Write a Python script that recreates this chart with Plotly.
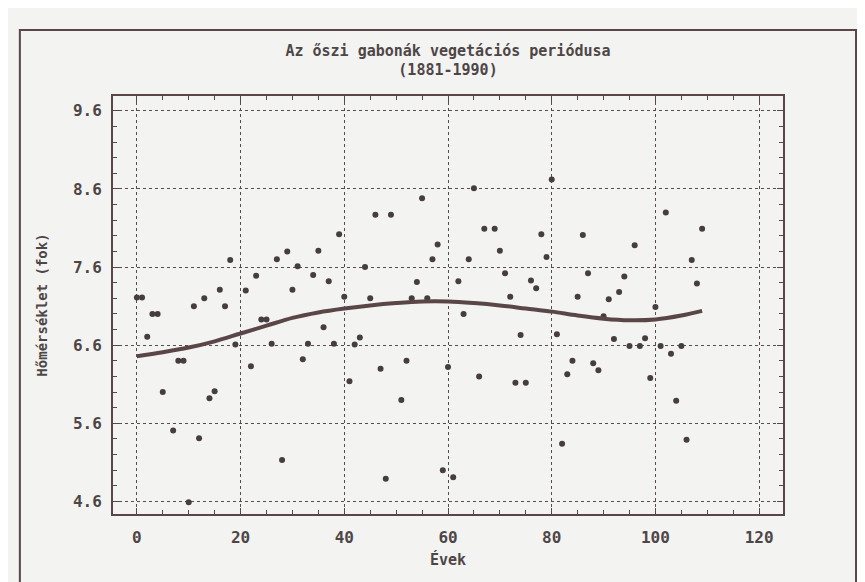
import plotly.graph_objects as go

# Years since 1881 and the seasonal mean temperature (°C)
YEARS = [0, 1, 2, 3, 4, 5, 7, 8, 9, 10,
         11, 12, 13, 14, 15, 16, 17, 18, 19, 21,
         22, 23, 24, 25, 26, 27, 28, 29, 30, 31,
         32, 33, 34, 35, 36, 37, 38, 39, 40, 41,
         42, 43, 44, 45, 46, 47, 48, 49, 51, 52,
         53, 54, 55, 56, 57, 58, 59, 60, 61, 62,
         63, 64, 65, 66, 67, 69, 70, 71, 72, 73,
         74, 75, 76, 77, 78, 79, 80, 81, 82, 83,
         84, 85, 86, 87, 88, 89, 90, 91, 92, 93,
         94, 95, 96, 97, 98, 99, 100, 101, 102, 103,
         104, 105, 106, 107, 108, 109]
TEMPS = [7.21, 7.21, 6.71, 7.00, 7.00, 6.00, 5.51, 6.40, 6.40, 4.59,
         7.10, 5.41, 7.20, 5.92, 6.01, 7.31, 7.10, 7.69, 6.61, 7.30,
         6.33, 7.49, 6.93, 6.93, 6.62, 7.70, 5.13, 7.80, 7.31, 7.61,
         6.42, 6.62, 7.50, 7.81, 6.83, 7.42, 6.62, 8.02, 7.22, 6.14,
         6.61, 6.70, 7.60, 7.20, 8.27, 6.30, 4.89, 8.27, 5.90, 6.40,
         7.20, 7.41, 8.48, 7.20, 7.70, 7.89, 5.00, 6.32, 4.91, 7.42,
         7.00, 7.70, 8.61, 6.20, 8.09, 8.09, 7.81, 7.52, 7.22, 6.12,
         6.73, 6.12, 7.43, 7.33, 8.02, 7.73, 8.72, 6.74, 5.34, 6.23,
         6.40, 7.22, 8.01, 7.52, 6.37, 6.28, 6.97, 7.19, 6.68, 7.28,
         7.48, 6.59, 7.88, 6.59, 6.69, 6.18, 7.09, 6.59, 8.30, 6.49,
         5.89, 6.59, 5.39, 7.69, 7.39, 8.09]

# Smoothed trend curve, read every 5 years
TREND_X = [0, 5, 10, 15, 20, 25, 30, 35, 40, 45, 50, 55,
           60, 65, 70, 75, 80, 85, 90, 95, 100, 105, 109]
TREND_Y = [6.46, 6.51, 6.57, 6.65, 6.75, 6.85, 6.95, 7.02, 7.07, 7.11, 7.14, 7.16,
           7.16, 7.14, 7.11, 7.07, 7.03, 6.98, 6.94, 6.92, 6.93, 6.98, 7.04]

X_TICKS = [0, 20, 40, 60, 80, 100, 120]
Y_TICKS = [4.6, 5.6, 6.6, 7.6, 8.6, 9.6]

INK = "#5a4646"
TEXT = "#4e4646"
BG = "#f3f3f1"
FONT = "DejaVu Sans Mono"

fig = go.Figure()

fig.add_trace(go.Scatter(
    x=YEARS, y=TEMPS,
    mode="markers",
    marker=dict(color="#463e3e", size=6, symbol="circle"),
    showlegend=False,
))

fig.add_trace(go.Scatter(
    x=TREND_X, y=TREND_Y,
    mode="lines",
    line=dict(color=INK, width=4, shape="spline"),
    showlegend=False,
))

axis_common = dict(
    automargin=False,
    showline=True, linecolor=INK, linewidth=2, mirror="ticks",
    ticks="inside", ticklen=6, tickcolor=INK, tickwidth=1,
    showgrid=True, gridcolor="#564c4c", griddash="dot", gridwidth=1,
    zeroline=False,
    tickfont=dict(family=FONT, size=16, color=TEXT, weight="bold"),
)

fig.update_xaxes(
    range=[-4.6, 124.6],
    tickvals=X_TICKS,
    minor=dict(ticks="inside", dtick=5, tick0=0, ticklen=4, tickcolor=INK, showgrid=False),
    ticklabelstandoff=8,
    title=dict(text="Évek", font=dict(family=FONT, size=15, color=TEXT, weight="bold"),
               standoff=8),
    **axis_common,
)
fig.update_yaxes(
    range=[4.44, 9.79],
    tickvals=Y_TICKS,
    tickformat=".1f",
    minor=dict(ticks="inside", dtick=0.2, tick0=4.6, ticklen=4, tickcolor=INK, showgrid=False),
    ticklabelstandoff=6,
    title=dict(text="Hőmérséklet (fok)", font=dict(family=FONT, size=14, color=TEXT, weight="bold"),
               standoff=22),
    **axis_common,
)

# outer frame of the printed figure
fig.add_shape(type="rect", xref="paper", yref="paper",
              x0=-0.139, x1=1.109, y0=-0.170, y1=1.158,
              line=dict(color=INK, width=2), layer="below")

fig.update_layout(
    width=865, height=582,
    margin=dict(l=105, r=90, t=88, b=76),
    paper_bgcolor=BG, plot_bgcolor=BG,
    title=dict(
        text="Az őszi gabonák vegetációs periódusa<br>(1881-1990)",
        font=dict(family=FONT, size=15, color=TEXT, weight="bold"),
        x=0.5, xref="paper", xanchor="center",
        y=0.918, yref="container", yanchor="middle",
    ),
)

fig.write_html("out.html")
